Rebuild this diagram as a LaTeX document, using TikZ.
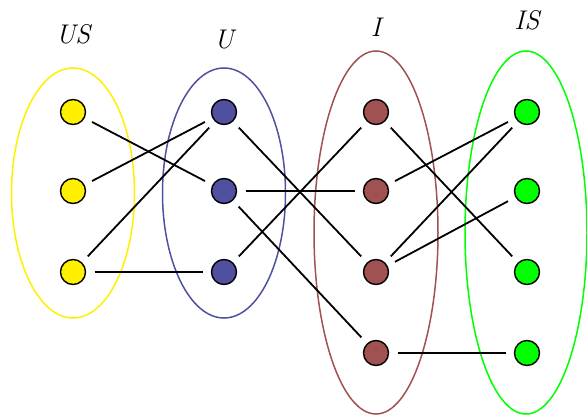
\documentclass[tikz,border=0pt]{standalone}
\begin{document}
\begin{tikzpicture}[x=1pt,y=-1pt,
  vtx/.style={circle,draw=black,line width=1.4pt,minimum size=25pt,inner sep=0pt,outer sep=9pt},
  grp/.style={line width=1.5pt},
  edge/.style={line width=1.8pt,black},
  lab/.style={font=\fontsize{27}{27}\selectfont\itshape}]
\definecolor{cyel}{RGB}{255,240,0}
\definecolor{cblue}{RGB}{79,81,160}
\definecolor{cbrown}{RGB}{160,82,82}
\definecolor{cgreen}{RGB}{0,255,0}
\useasboundingbox (0,0) rectangle (587,417);
% groups
\draw[grp,cyel] (73,193) ellipse [x radius=61.5,y radius=125];
\draw[grp,cblue] (224,193) ellipse [x radius=61.5,y radius=125];
\draw[grp,cbrown] (376,232.5) ellipse [x radius=62,y radius=181.5];
\draw[grp,cgreen] (526,232.5) ellipse [x radius=61,y radius=181.5];
% labels
\node[lab] (lUS) at (73,34) {US};
\node[lab] (lU) at (224,40) {U};
\node[lab] (lI) at (376,27) {I};
\node[lab] (lIS) at (527,20) {IS};
% vertices
\foreach \n/\y in {1/112,2/191,3/272}{
  \node[vtx,fill=cyel] (us\n) at (73,\y) {};
  \node[vtx,fill=cblue] (u\n) at (224,\y) {};
}
\foreach \n/\y in {1/112,2/191,3/272,4/353}{
  \node[vtx,fill=cbrown] (i\n) at (376,\y) {};
  \node[vtx,fill=cgreen] (is\n) at (527,\y) {};
}
% edges
\draw[edge] (us1) -- (u2);
\draw[edge] (us2) -- (u1);
\draw[edge] (us3) -- (u1);
\draw[edge] (us3) -- (u3);
\draw[edge] (u1) -- (i3);
\draw[edge] (u2) -- (i2);
\draw[edge] (u2) -- (i4);
\draw[edge] (u3) -- (i1);
\draw[edge] (i1) -- (is3);
\draw[edge] (i2) -- (is1);
\draw[edge] (i3) -- (is1);
\draw[edge] (i3) -- (is2);
\draw[edge] (i4) -- (is4);
\end{tikzpicture}
\end{document}
